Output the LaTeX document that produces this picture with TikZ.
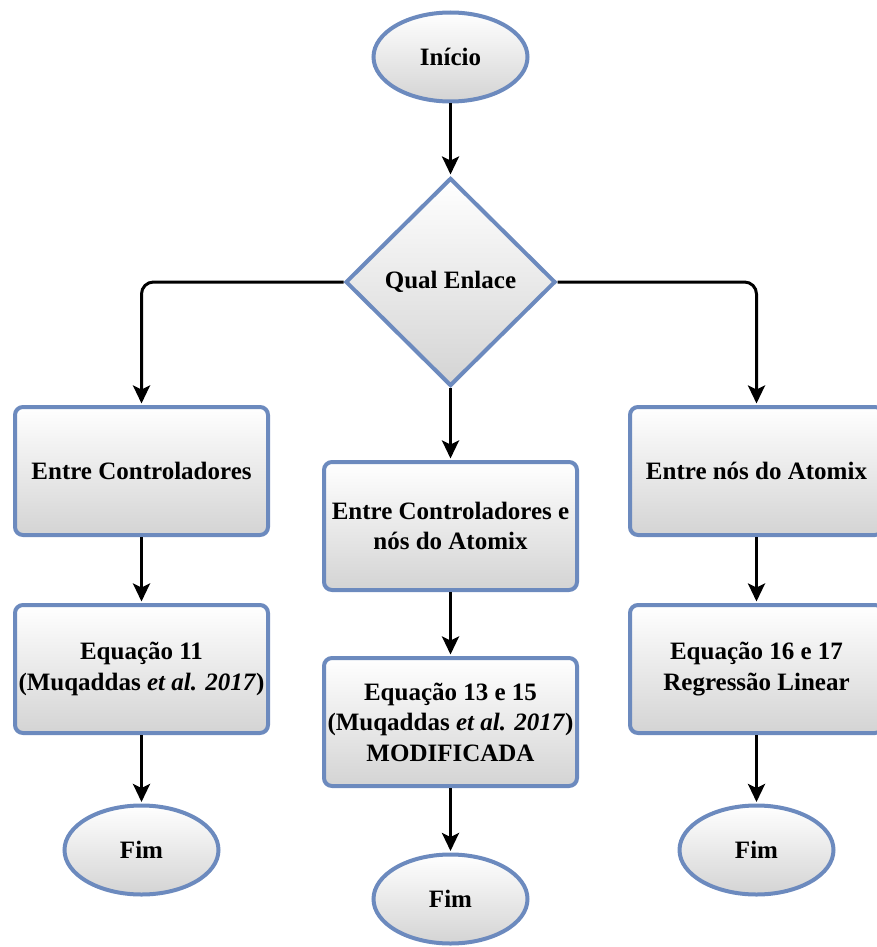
\documentclass[tikz,border=0pt]{standalone}
\usepackage{fontspec}
\setmainfont{Liberation Serif}
\usetikzlibrary{shapes.geometric,arrows.meta}
\definecolor{edgeblue}{RGB}{108,138,190}
\tikzset{
  base/.style={draw=edgeblue, line width=4pt, top color=white, bottom color=black!17,
    font=\fontsize{25}{30.5}\selectfont\bfseries, align=center, inner sep=0pt},
  term/.style={base, ellipse, minimum width=154pt, minimum height=89pt},
  proc/.style={base, rectangle, rounded corners=8pt, minimum width=253pt, minimum height=128pt},
  choice/.style={base, diamond, minimum width=210pt, minimum height=208pt},
  flow/.style={line width=3pt, -{Stealth[length=18pt,width=17pt,inset=4pt]},
    rounded corners=12pt, shorten >=1.5pt}
}
\begin{document}
\begin{tikzpicture}[x=1pt,y=-1pt]
  \useasboundingbox (0,0) rectangle (876,947);
  % terminals, decision and process boxes
  \node[term]   (start) at (450.5,57)  {Início};
  \node[choice] (q)     at (450.5,282) {Qual Enlace};
  \node[proc]   (l1)    at (141.5,471) {Entre Controladores};
  \node[proc]   (m1)    at (450.5,526) {Entre Controladores e\\nós do Atomix};
  \node[proc]   (r1)    at (756.5,471) {Entre nós do Atomix};
  \node[proc]   (l2)    at (141.5,669) {Equação 11\\(Muqaddas \textit{et al. 2017})};
  \node[proc]   (m2)    at (450.5,722) {Equação 13 e 15\\(Muqaddas \textit{et al. 2017})\\MODIFICADA};
  \node[proc]   (r2)    at (756.5,669) {Equação 16 e 17\\Regressão Linear};
  \node[term]   (lf)    at (141.5,850) {Fim};
  \node[term]   (mf)    at (450.5,899) {Fim};
  \node[term]   (rf)    at (756.5,850) {Fim};
  % connectors
  \draw[flow] (start) -- (q);
  \draw[flow] (q.west) -| (l1.north);
  \draw[flow] (q.east) -| (r1.north);
  \draw[flow] (q.south) -- (m1.north);
  \draw[flow] (l1) -- (l2);
  \draw[flow] (m1) -- (m2);
  \draw[flow] (r1) -- (r2);
  \draw[flow] (l2) -- (lf);
  \draw[flow] (m2) -- (mf);
  \draw[flow] (r2) -- (rf);
\end{tikzpicture}
\end{document}
